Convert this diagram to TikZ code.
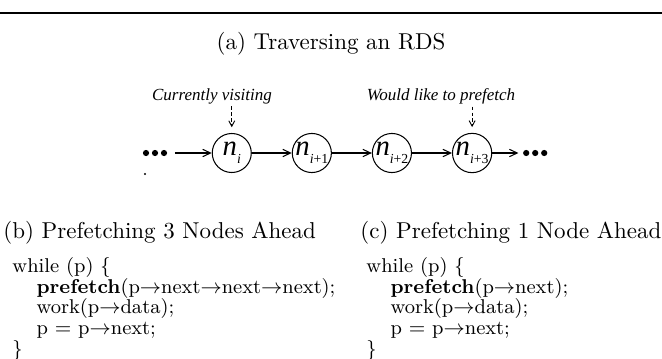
\documentclass[tikz,border=0pt]{standalone}
\usepackage{fontspec}
\newfontfamily\timesfont{LiberationSerif}[Extension=.ttf, UprightFont=*-Regular, ItalicFont=*-Italic]
\usetikzlibrary{positioning, arrows.meta}

% node label n with subscript
\newcommand{\rdsn}[1]{{\timesfont\itshape\fontsize{12.5}{12.5}\selectfont n}\raisebox{-0.8ex}{\timesfont\fontsize{6}{6}\selectfont #1}}

\begin{document}
\begin{tikzpicture}[
    x=0.0153cm, y=-0.0153cm,
    node distance=17.4pt,
    rds/.style={draw, circle, minimum size=17pt, inner sep=0pt, line width=0.45pt},
    dotrow/.style={minimum width=11pt, minimum height=3pt, inner sep=0pt},
    link/.style={-{Straight Barb[length=3.4pt, width=3.2pt]}, line width=0.45pt},
    pointer/.style={-{Straight Barb[length=2.4pt, width=2.6pt]}, line width=0.4pt,
                    dash pattern=on 1.6pt off 1pt, shorten >=2.5pt},
    note/.style={font=\timesfont\itshape\fontsize{7.4}{7.4}\selectfont, inner sep=1pt},
    heading/.style={font=\fontsize{10}{12}\selectfont, inner sep=0pt},
    code/.style={font=\fontsize{8.7}{9}\selectfont, align=left, inner sep=0pt}]

  \useasboundingbox (0,0) rectangle (662,358);

  % === Top rule and caption ===
  \draw[line width=0.7pt] (0,13) -- (662,13);
  \node[heading, anchor=base] (capA) at (331,50) {(a) Traversing an RDS};

  % === The RDS chain ===
  \node[dotrow] (dotsL) at (155,153) {};
  \node[rds, right=19pt of dotsL] (n0) {\rdsn{\textit{i}}};
  \node[rds, right=of n0] (n1) {\rdsn{\textit{i}+1}};
  \node[rds, right=of n1] (n2) {\rdsn{\textit{i}+2}};
  \node[rds, right=of n2] (n3) {\rdsn{\textit{i}+3}};
  \node[dotrow, right=13pt of n3] (dotsR) {};
  \foreach \d in {dotsL, dotsR}
    \foreach \dx in {-9,0,9}
      \fill (\d.center) ++(\dx,0) circle (1.35pt);
  \fill (145,174) circle (0.45pt);

  \draw[link, shorten <=3pt] (dotsL) -- (n0);
  \draw[link] (n0) -- (n1);
  \draw[link] (n1) -- (n2);
  \draw[link] (n2) -- (n3);
  \draw[link, shorten >=1.6pt] (n3) -- (dotsR);

  % === Pointers ===
  \node[note] (visit) at (212,96) {Currently visiting};
  \node[note] (want) at (441,96) {Would like to prefetch};
  \draw[pointer] (visit.south -| n0) -- (n0);
  \draw[pointer] (want.south -| n3) -- (n3);

  % === Code fragments ===
  \node[heading, anchor=base west] (capB) at (3,238) {(b) Prefetching 3 Nodes Ahead};
  \node[heading, anchor=base west] (capC) at (360,238) {(c) Prefetching 1 Node Ahead};

  \node[code, anchor=north west] (codeB) at (12,257) {while (p) \{\\
    \hspace*{10.5pt}\textbf{prefetch}(p$\rightarrow$next$\rightarrow$next$\rightarrow$next);\\
    \hspace*{10.5pt}work(p$\rightarrow$data);\\
    \hspace*{10.5pt}p $=$ p$\rightarrow$next;\\
    \}};
  \node[code, anchor=north west] (codeC) at (366,257) {while (p) \{\\
    \hspace*{10.5pt}\textbf{prefetch}(p$\rightarrow$next);\\
    \hspace*{10.5pt}work(p$\rightarrow$data);\\
    \hspace*{10.5pt}p $=$ p$\rightarrow$next;\\
    \}};

\end{tikzpicture}
\end{document}
